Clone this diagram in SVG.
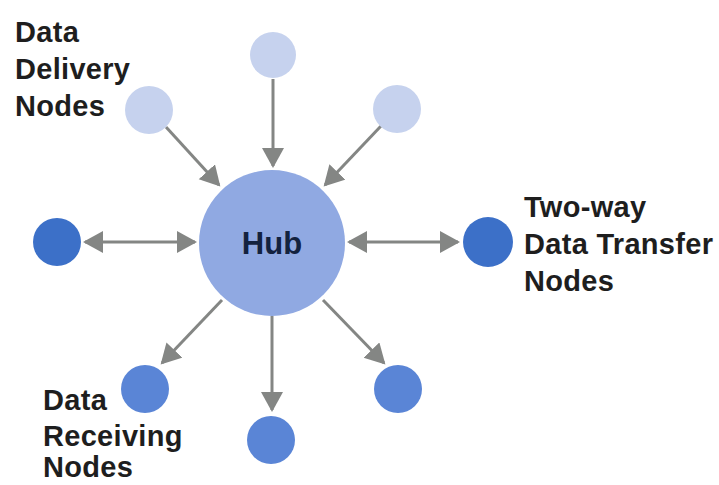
<svg xmlns="http://www.w3.org/2000/svg" width="719" height="485" viewBox="0 0 719 485">
<style>
.lbl{font-family:"Liberation Sans",Arial,sans-serif;font-weight:bold;font-size:29px;letter-spacing:0.3px;fill:#1e1e1e}
.hubt{font-family:"Liberation Sans",Arial,sans-serif;font-weight:bold;font-size:31px;fill:#13223f}
.con{stroke:#848684;stroke-width:3;fill:none}
.light{fill:#c6d2ee}
.dark{fill:#3c70c8}
.mid{fill:#5a85d6}
</style>
<defs>
<marker id="ah" markerUnits="userSpaceOnUse" markerWidth="22" markerHeight="24" refX="18" refY="11" orient="auto-start-reverse">
<path d="M0,0 L20,11 L0,22 Z" fill="#848684"/>
</marker>
</defs>
<rect width="719" height="485" fill="#ffffff"/>
<g id="connectors">
<line class="con" x1="273" y1="79" x2="273" y2="166" marker-end="url(#ah)"/>
<line class="con" x1="166" y1="127" x2="219" y2="185" marker-end="url(#ah)"/>
<line class="con" x1="381" y1="126" x2="325" y2="185" marker-end="url(#ah)"/>
<line class="con" x1="85" y1="242" x2="195" y2="242" marker-start="url(#ah)" marker-end="url(#ah)"/>
<line class="con" x1="349" y1="242" x2="458" y2="242" marker-start="url(#ah)" marker-end="url(#ah)"/>
<line class="con" x1="222" y1="300" x2="162" y2="363" marker-end="url(#ah)"/>
<line class="con" x1="272" y1="316" x2="272" y2="410" marker-end="url(#ah)"/>
<line class="con" x1="323" y1="300" x2="384" y2="363" marker-end="url(#ah)"/>
</g>
<g id="hub">
<circle cx="272" cy="243" r="73" fill="#90a9e2"/>
<text class="hubt" x="272" y="254" text-anchor="middle">Hub</text>
</g>
<g id="delivery-top"><circle class="light" cx="273" cy="55" r="23"/></g>
<g id="delivery-left"><circle class="light" cx="149" cy="110" r="24"/></g>
<g id="delivery-right"><circle class="light" cx="397" cy="109" r="24"/></g>
<g id="twoway-left"><circle class="dark" cx="57" cy="242" r="24"/></g>
<g id="twoway-right"><circle class="dark" cx="488" cy="242" r="25"/></g>
<g id="receiving-left"><circle class="mid" cx="145" cy="389" r="24"/></g>
<g id="receiving-center"><circle class="mid" cx="271" cy="440" r="24"/></g>
<g id="receiving-right"><circle class="mid" cx="398" cy="389" r="24"/></g>
<g id="label-delivery">
<text class="lbl" x="15" y="42">Data</text>
<text class="lbl" x="15" y="79">Delivery</text>
<text class="lbl" x="15" y="116">Nodes</text>
</g>
<g id="label-twoway">
<text class="lbl" x="524" y="217">Two-way</text>
<text class="lbl" x="524" y="254">Data Transfer</text>
<text class="lbl" x="524" y="291">Nodes</text>
</g>
<g id="label-receiving">
<text class="lbl" x="43" y="410">Data</text>
<text class="lbl" x="43" y="446">Receiving</text>
<text class="lbl" x="43" y="477">Nodes</text>
</g>
</svg>
